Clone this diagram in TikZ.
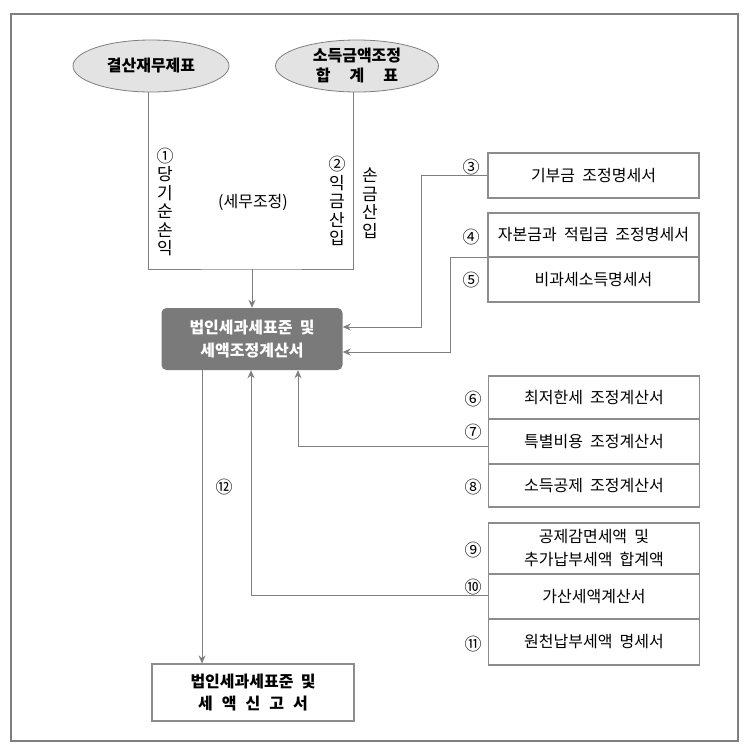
\documentclass[tikz,border=0pt]{standalone}
\usepackage{fontspec}
\setmainfont{Noto Sans CJK KR}
\usetikzlibrary{arrows.meta,shapes.geometric}
\definecolor{ln}{HTML}{7F7F7F}
\definecolor{bd}{HTML}{8C8C8C}
\definecolor{ellfill}{HTML}{E3E3E3}
\definecolor{darkfill}{HTML}{7A7A7A}
\newcommand{\ws}{\hspace{0.45em}}
\tikzset{
  frame/.style={draw=ln, line width=2pt},
  ell/.style={ellipse, draw=ln, fill=ellfill, line width=0.8pt, inner sep=0pt, font=\fontsize{16}{20}\selectfont\bfseries, align=center},
  darkbox/.style={draw=none, fill=darkfill, rounded corners=5pt, minimum width=181pt, minimum height=62pt, text=white, font=\fontsize{16}{23}\selectfont\bfseries, align=center, inner sep=0pt},
  docbox/.style={draw=bd, line width=1.2pt, fill=white, minimum width=211pt, inner sep=0pt, font=\fontsize{16}{23}\selectfont, align=center},
  endbox/.style={draw=bd, line width=1.2pt, fill=white, minimum width=202pt, minimum height=57pt, inner sep=0pt, font=\fontsize{16}{22}\selectfont\bfseries, align=center},
  conn/.style={draw=ln, line width=1pt},
  arr/.style={conn, -{Stealth[length=8pt,width=7pt]}, color=ln},
  num/.style={font=\fontsize{17}{17}\selectfont, inner sep=0pt},
  vtext/.style={font=\fontsize{17}{18.5}\selectfont, align=center, inner sep=0pt},
  lbl/.style={font=\fontsize{16}{18}\selectfont, inner sep=0pt}
}
\begin{document}
\begin{tikzpicture}[x=1pt,y=-1pt]
\useasboundingbox (0,0) rectangle (747,753);
\draw[frame] (11,14) rectangle (738,741);

% top ellipses
\node[ell, minimum width=156pt, minimum height=52pt] (e1) at (151,66) {결산재무제표};
\node[ell, minimum width=163pt, minimum height=52pt] (e2) at (357,66) {소득금액조정\\합\hspace{19pt}계\hspace{19pt}표};

% main box
\node[darkbox] (m) at (252,339) {법인세과세표준\ws 및\\세액조정계산서};

% junction of the two upper lines
\coordinate (j) at (252,269);
\draw[conn] ([xshift=-3pt]e1.south) |- (j) -| ([xshift=-4pt]e2.south);
\draw[arr] (j) -- (m.north);

% labels in the upper region
\node[vtext] (l1) at (165,202) {①\\당\\기\\순\\손\\익};
\node[vtext] (l2) at (337,201) {②\\익\\금\\산\\입};
\node[vtext] (l3) at (370,203) {손\\금\\산\\입};
\node[lbl] (tj) at (253,202) {(세무조정)};

% right documents, group 1
\node[docbox, minimum height=45pt] (b3) at (593.5,175.5) {기부금\ws 조정명세서};
\node[docbox, minimum height=44pt] (b4) at (593.5,235) {자본금과\ws 적립금\ws 조정명세서};
\node[docbox, minimum height=45pt] (b5) at (593.5,279.5) {비과세소득명세서};
\node[num] (n3) at (471,167) {③};
\node[num] (n4) at (471,237) {④};
\node[num] (n5) at (471,280) {⑤};

% group 2
\node[docbox, minimum height=43pt] (b6) at (594,397.5) {최저한세\ws 조정계산서};
\node[docbox, minimum height=45pt] (b7) at (594,441.5) {특별비용\ws 조정계산서};
\node[docbox, minimum height=43pt] (b8) at (594,485.5) {소득공제\ws 조정계산서};
\node[num] (n6) at (473,399) {⑥};
\node[num] (n7) at (473,432) {⑦};
\node[num] (n8) at (473,487) {⑧};

% group 3
\node[docbox, minimum height=51pt] (b9) at (594,548.5) {공제감면세액\ws 및\\추가납부세액\ws 합계액};
\node[docbox, minimum height=45pt] (b10) at (594,596.5) {가산세액계산서};
\node[docbox, minimum height=46pt] (b11) at (594,642) {원천납부세액\ws 명세서};
\node[num] (n9) at (473,550) {⑨};
\node[num] (n10) at (473,587) {⑩};
\node[num] (n11) at (473,644) {⑪};

% final box
\node[endbox] (fin) at (253,692.5) {법인세과세표준\ws 및\\세\hspace{9pt}액\hspace{9pt}신\hspace{9pt}고\hspace{9pt}서};

% connectors into main box
\coordinate (c3) at (421,327);
\draw[arr] (b3.west) -| (c3) -- (m.east |- c3);
\coordinate (c45) at (450,352);
\draw[arr] (b4.south west) -| (c45) -- (m.east |- c45);
\coordinate (c7) at (298,446);
\draw[arr] (b7.west |- c7) -| (m.south -| c7);
\coordinate (c10) at (251,595);
\draw[arr] (b10.west |- c10) -| (m.south -| c10);

% output
\coordinate (c12) at (202,0);
\draw[arr] (m.south -| c12) -- (fin.north -| c12);
\node[num] (n12) at (224,487) {⑫};
\end{tikzpicture}
\end{document}
